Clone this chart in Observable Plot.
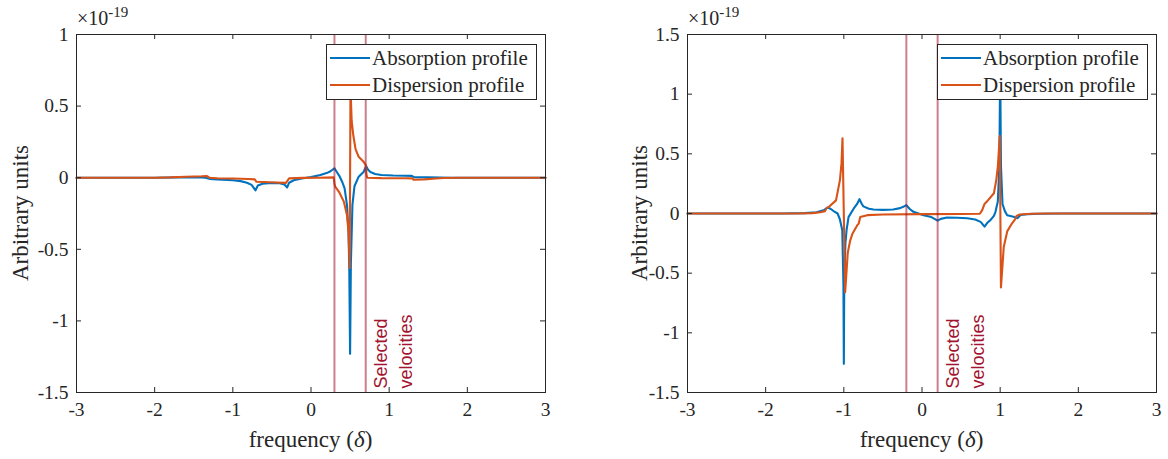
<!DOCTYPE html>
<html><head><meta charset="utf-8">
<script src="https://cdn.jsdelivr.net/npm/d3@7"></script>
<script src="https://cdn.jsdelivr.net/npm/@observablehq/plot@0.6"></script>
<style>
html,body{margin:0;padding:0;background:#fff;}
#wrap{display:flex;width:1168px;height:459px;overflow:hidden;}
#wrap svg{display:block;}
</style></head><body><div id="wrap"></div>
<script>
// ---- data (values in units of 1e-19) ----
const xTicks = [-3, -2, -1, 0, 1, 2, 3];
const leftYTicks = [-1.5, -1, -0.5, 0, 0.5, 1];
const rightYTicks = [-1.5, -1, -0.5, 0, 0.5, 1, 1.5];
const leftSelected = [0.3, 0.7];
const rightSelected = [-0.2, 0.2];
const seriesNames = ["Absorption profile", "Dispersion profile"];
const selectedLabel = "Selected\nvelocities";
const yLabel = "Arbitrary units";

const leftAbsX = [-3.0,-2.0,-1.7,-1.45,-1.35,-1.3,-1.2,-1.0,-0.9,-0.82,-0.76,-0.71,-0.68,-0.62,-0.5,-0.4,-0.34,-0.305,-0.28,-0.22,-0.12,0.0,0.12,0.2,0.25,0.3,0.33,0.36,0.4,0.43,0.46,0.48,0.49,0.5,0.51,0.53,0.556,0.61,0.675,0.705,0.73,0.76,0.82,0.9,1.05,1.2,1.29,1.32,1.5,1.8,3.0];
const leftAbsY = [0,0,0.002,0.003,0.0,-0.008,-0.012,-0.018,-0.024,-0.035,-0.05,-0.088,-0.055,-0.042,-0.036,-0.038,-0.048,-0.068,-0.035,-0.018,-0.006,0.004,0.019,0.032,0.045,0.066,0.04,0.015,-0.03,-0.075,-0.19,-0.38,-0.65,-1.23,-0.6,-0.19,-0.06,0.007,0.042,0.082,0.055,0.04,0.026,0.019,0.015,0.014,0.013,0.004,0.002,0,0];

const leftDispX = [-3.0,-2.0,-1.8,-1.6,-1.4,-1.33,-1.3,-1.2,-1.0,-0.8,-0.72,-0.7,-0.6,-0.45,-0.32,-0.3,-0.28,-0.1,0.1,0.29,0.3,0.31,0.36,0.42,0.46,0.48,0.495,0.505,0.52,0.54,0.57,0.61,0.675,0.70,0.71,0.72,0.9,1.2,1.3,1.31,1.45,1.6,1.7,1.9,3.0];
const leftDispY = [0,0,0.002,0.007,0.01,0.012,0.0,-0.004,-0.006,-0.009,-0.012,-0.028,-0.03,-0.033,-0.036,-0.02,-0.005,-0.001,0.0,0.002,-0.04,-0.063,-0.1,-0.167,-0.26,-0.38,-0.63,0.63,0.4,0.3,0.2,0.146,0.11,0.088,0.02,0.0,-0.003,-0.004,-0.005,-0.014,-0.012,-0.006,-0.002,0,0];

const rightAbsX = [-3,-1.8,-1.5,-1.35,-1.25,-1.21,-1.17,-1.12,-1.08,-1.05,-1.02,-1.005,-1.0,-0.995,-0.98,-0.965,-0.94,-0.875,-0.83,-0.8,-0.77,-0.75,-0.68,-0.62,-0.5,-0.37,-0.28,-0.24,-0.2,-0.16,-0.11,0.02,0.12,0.2,0.24,0.32,0.45,0.58,0.68,0.75,0.8,0.84,0.875,0.92,0.94,0.97,0.99,1.0,1.01,1.03,1.06,1.09,1.17,1.22,1.26,1.35,1.5,1.8,3];
const rightAbsY = [0,0,0.003,0.01,0.03,0.05,0.04,0.015,0,-0.05,-0.14,-0.6,-1.26,-0.6,-0.25,-0.14,-0.03,0.04,0.08,0.12,0.08,0.06,0.04,0.033,0.03,0.033,0.045,0.056,0.07,0.04,0.014,-0.014,-0.03,-0.06,-0.045,-0.033,-0.035,-0.04,-0.05,-0.07,-0.11,-0.075,-0.056,-0.02,0.014,0.1,0.4,1.25,0.4,0.08,0.02,-0.014,-0.028,-0.04,-0.012,-0.005,-0.002,0,0];

const rightDispX = [-3,-1.6,-1.4,-1.3,-1.24,-1.22,-1.19,-1.1,-1.05,-1.03,-1.017,-0.983,-0.95,-0.92,-0.89,-0.83,-0.81,-0.79,-0.7,-0.5,0,0.5,0.74,0.77,0.8,0.83,0.92,0.95,0.97,0.995,1.01,1.046,1.09,1.15,1.19,1.21,1.25,1.4,1.6,3];
const rightDispY = [0,0,0.003,0.01,0.02,0.045,0.056,0.11,0.28,0.42,0.63,-0.66,-0.33,-0.23,-0.17,-0.1,-0.085,-0.03,-0.014,-0.008,-0.005,-0.004,-0.002,0.028,0.08,0.1,0.17,0.28,0.39,0.65,-0.62,-0.28,-0.15,-0.084,-0.05,-0.02,-0.008,-0.002,0,0];

// ---- styling ----
const W = 584, H = 459;
const SERIF = "Liberation Serif, Times New Roman, serif";
const SANS = "Liberation Sans, Arial, sans-serif";
const INK = "#262626";
const BLUE = "#0072BD", ORANGE = "#D95319", SEL = "#A2142F";

function panel({absX, absY, dispX, dispY, yTicks, yDomain, vlines, mL, mR, mT, mB, ylabDx}) {
  const abs = absX.map((x, i) => ({x, y: absY[i]}));
  const disp = dispX.map((x, i) => ({x, y: dispY[i]}));
  const innerH = H - mT - mB, innerW = W - mL - mR;
  const tl = 5;
  const plot = Plot.plot({
    width: W, height: H,
    marginLeft: mL, marginRight: mR, marginTop: mT, marginBottom: mB,
    style: {background: "white", overflow: "visible"},
    x: {domain: [-3, 3]},
    y: {domain: yDomain},
    marks: [
      Plot.line(abs, {x: "x", y: "y", stroke: BLUE, strokeWidth: 2.1}),
      Plot.line(disp, {x: "x", y: "y", stroke: ORANGE, strokeWidth: 2.1}),
      Plot.ruleX(vlines, {stroke: SEL, strokeOpacity: 0.55, strokeWidth: 2}),
      Plot.text([selectedLabel], {x: vlines[1], y: yDomain[0], rotate: -90, textAnchor: "start", lineAnchor: "top",
        dx: 3, dy: -4, fill: SEL, fontFamily: SANS, fontSize: 18, lineHeight: 1.4}),
      Plot.tickX(xTicks, {x: d => d, insetTop: innerH - tl, stroke: INK}),
      Plot.tickX(xTicks, {x: d => d, insetBottom: innerH - tl, stroke: INK}),
      Plot.tickY(yTicks, {y: d => d, insetRight: innerW - tl, stroke: INK}),
      Plot.tickY(yTicks, {y: d => d, insetLeft: innerW - tl, stroke: INK}),
      Plot.frame({stroke: INK}),
      Plot.axisX(xTicks, {tickSize: 0, tickPadding: 10, tickFormat: d => String(d), label: null, fill: INK,
        fontFamily: SERIF, fontSize: 19.5}),
      Plot.axisY(yTicks, {tickSize: 0, tickPadding: 8, tickFormat: d => String(d), label: null, fill: INK,
        fontFamily: SERIF, fontSize: 19.5})
    ]
  });
  const svg = d3.select(plot);
  // serif for every library text except the rotated "Selected velocities" note
  svg.selectAll("text").each(function () {
    const t = d3.select(this);
    if (this.textContent.includes("Selected")) {
      t.style("font-family", SANS).style("font-size", "18px");
    } else {
      t.style("font-family", SERIF).style("font-size", "19.5px");
    }
  });
  // y label
  const cy = (mT + H - mB) / 2, cx = mL + ylabDx;
  svg.append("text").attr("transform", `translate(${cx},${cy}) rotate(-90)`).attr("dy", "0.35em")
    .style("text-anchor", "middle").style("font-family", SERIF).style("font-size", "23px").style("fill", INK)
    .text(yLabel);
  // x label with italic delta
  const xl = svg.append("text").attr("x", (mL + W - mR) / 2).attr("y", H - mB + 55)
    .style("text-anchor", "middle").style("font-family", SERIF).style("font-size", "23px").style("fill", INK);
  xl.append("tspan").text("frequency (");
  xl.append("tspan").style("font-style", "italic").text("\u03B4");
  xl.append("tspan").text(")");
  // exponent
  const ex = svg.append("text").attr("x", mL + 1).attr("y", mT - 9)
    .style("text-anchor", "start").style("font-family", SERIF).style("font-size", "20px").style("fill", INK);
  ex.append("tspan").text("\u00D710");
  ex.append("tspan").style("font-size", "15px").attr("dy", -8).text("-19");
  // legend
  const lw = 210, lh = 55;
  const lx = W - mR - 9 - lw, ly = mT + 10;
  const g = svg.append("g").attr("transform", `translate(${lx},${ly})`);
  g.append("rect").attr("x", 0.5).attr("y", 0.5).attr("width", lw).attr("height", lh)
    .style("fill", "white").style("stroke", INK).style("stroke-width", "1px");
  [BLUE, ORANGE].forEach((c, i) => {
    const yy = 14 + i * 27;
    g.append("line").attr("x1", 4).attr("x2", 44).attr("y1", yy).attr("y2", yy)
      .style("stroke", c).style("stroke-width", "2px");
    g.append("text").attr("x", 46).attr("y", yy).attr("dy", "0.35em")
      .style("text-anchor", "start").style("font-family", SERIF).style("font-size", "21px").style("fill", INK)
      .text(seriesNames[i]);
  });
  return plot;
}

const wrap = document.getElementById("wrap");
wrap.appendChild(panel({absX: leftAbsX, absY: leftAbsY, dispX: leftDispX, dispY: leftDispY,
  yTicks: leftYTicks, yDomain: [-1.5, 1], vlines: leftSelected, mL: 76, mR: 39, mT: 34, mB: 67, ylabDx: -56}));
wrap.appendChild(panel({absX: rightAbsX, absY: rightAbsY, dispX: rightDispX, dispY: rightDispY,
  yTicks: rightYTicks, yDomain: [-1.5, 1.5], vlines: rightSelected, mL: 103, mR: 12, mT: 34, mB: 67, ylabDx: -48}));
</script></body></html>
